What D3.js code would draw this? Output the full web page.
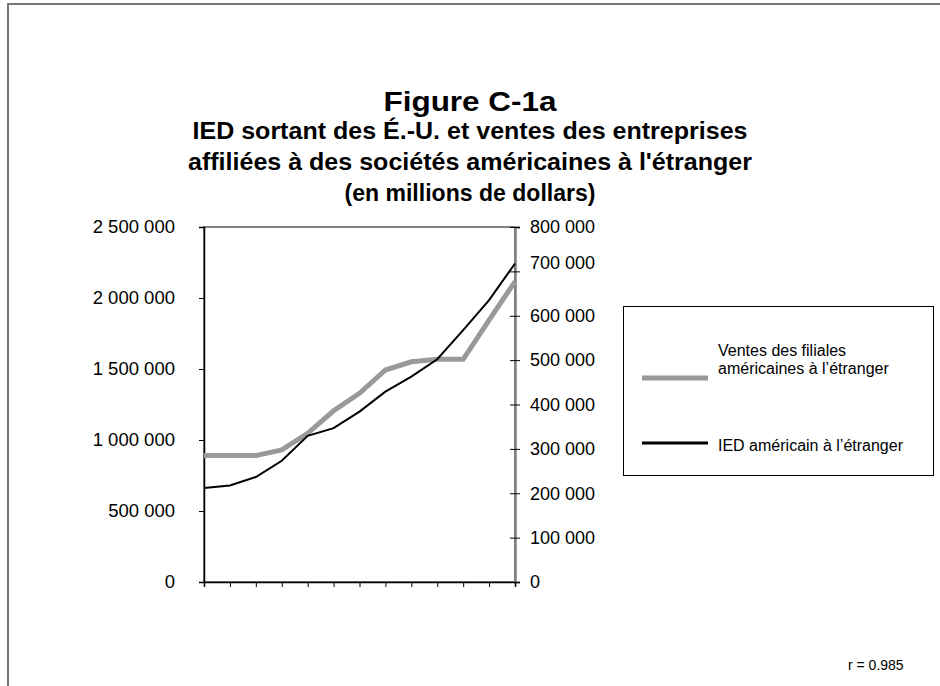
<!DOCTYPE html>
<html>
<head>
<meta charset="utf-8">
<script src="https://cdn.jsdelivr.net/npm/d3@7"></script>
<style>
  body { margin: 0; background: #fff; }
  text { font-family: "Liberation Sans", Arial, sans-serif; }
</style>
</head>
<body>
<div id="chart"></div>
<script>
// 13 periods, no labels on the category axis
var categories = ['1','2','3','4','5','6','7','8','9','10','11','12','13'];

// Ventes des filiales americaines a l'etranger (left axis)
var ventes = [890000, 890000, 890000, 930000, 1047000, 1206000, 1329000,
              1493000, 1551000, 1568000, 1568000, 1845000, 2115000];

// IED americain a l'etranger (right axis)
var ied = [211800, 217700, 236500, 273200, 329400, 346700, 384000,
           429000, 462700, 501900, 567700, 635200, 717700];

var leftTicks = [0, 500000, 1000000, 1500000, 2000000, 2500000];
var rightTicks = [0, 100000, 200000, 300000, 400000, 500000, 600000, 700000, 800000];

var titleLines = ['IED sortant des É.-U. et ventes des entreprises',
                  "affiliées à des sociétés américaines à l'étranger",
                  '(en millions de dollars)'];
var legendLabels = [['Ventes des filiales', 'américaines à l’étranger'],
                    ['IED américain à l’étranger']];

var
width = 940,
height = 686,
x0 = 204, x1 = 515,
y0 = 582, y1 = 227
;

var fmt = d3.formatLocale({decimal: ',', thousands: ' ', grouping: [3], currency: ['', '']}).format(',d');

var svg = d3.select('#chart').append('svg').attr('width', width).attr('height', height);

// outer frame
svg.append('rect').attr('x', 8).attr('y', 4).attr('width', 940).attr('height', 700)
    .attr('fill', 'none').attr('stroke', '#777').attr('stroke-width', 2);

// titles (the source text is a little stretched sideways)
var titleWidths = [555, 564, 251];
svg.append('text').attr('x', 470).attr('y', 111).attr('text-anchor', 'middle')
    .attr('textLength', 173).attr('lengthAdjust', 'spacingAndGlyphs')
    .style('font-size', '27px').style('font-weight', 'bold').text('Figure C-1a');
svg.selectAll('text.sub').data(titleLines).enter().append('text').attr('class', 'sub')
    .attr('x', 470).attr('y', function(d, i){ return 139 + i*31; })
    .attr('text-anchor', 'middle')
    .attr('textLength', function(d, i){ return titleWidths[i]; })
    .attr('lengthAdjust', 'spacingAndGlyphs')
    .style('font-size', '23px').style('font-weight', 'bold')
    .text(function(d){ return d; });

var x = d3.scalePoint().domain(categories).range([x0, x1]);
var yL = d3.scaleLinear().domain([0, 2500000]).range([y0, y1]);
var yR = d3.scaleLinear().domain([0, 800000]).range([y0, y1]);

// plot area border (gray)
svg.append('rect').attr('x', x0).attr('y', y1).attr('width', x1 - x0).attr('height', y0 - y1)
    .attr('fill', 'none').attr('stroke', '#808080').attr('stroke-width', 2);

// left axis
var gL = svg.append('g').attr('transform', 'translate(' + x0 + ',0)')
    .call(d3.axisLeft(yL).tickValues(leftTicks).tickFormat(fmt).tickSize(5).tickPadding(24));
gL.select('.domain').attr('stroke', '#000').attr('stroke-width', 1.5);
gL.selectAll('text').style('font-size', '18.5px').attr('fill', '#000');

// right axis, ticks cross the line
var gR = svg.append('g').attr('transform', 'translate(' + x1 + ',0)')
    .call(d3.axisRight(yR).tickValues(rightTicks).tickFormat(fmt).tickSize(5).tickPadding(10));
gR.select('.domain').attr('stroke', '#808080').attr('stroke-width', 2.5);
gR.selectAll('.tick line').attr('x1', -5).attr('stroke', '#000');
gR.selectAll('text').style('font-size', '18px').attr('fill', '#000')
    .attr('dy', function(d){ return d === 700000 ? '-0.15em' : '0.32em'; });

// bottom axis, no labels
var gB = svg.append('g').attr('transform', 'translate(0,' + y0 + ')')
    .call(d3.axisBottom(x).tickSize(5).tickFormat(''));
gB.select('.domain').attr('stroke', '#000').attr('stroke-width', 1.5);

// series
var lineL = d3.line().x(function(d, i){ return x(categories[i]); }).y(function(d){ return yL(d); });
var lineR = d3.line().x(function(d, i){ return x(categories[i]); }).y(function(d){ return yR(d); });

svg.append('path').datum(ventes).attr('d', lineL)
    .attr('fill', 'none').attr('stroke', '#999999').attr('stroke-width', 5);
svg.append('path').datum(ied).attr('d', lineR)
    .attr('fill', 'none').attr('stroke', '#000').attr('stroke-width', 2);

// legend
var lg = svg.append('g');
lg.append('rect').attr('x', 623.5).attr('y', 306.5).attr('width', 310).attr('height', 169)
    .attr('fill', '#fff').attr('stroke', '#000').attr('stroke-width', 1);
lg.append('line').attr('x1', 642).attr('x2', 708).attr('y1', 378).attr('y2', 378)
    .attr('stroke', '#999999').attr('stroke-width', 5);
lg.append('line').attr('x1', 642).attr('x2', 708).attr('y1', 443).attr('y2', 443)
    .attr('stroke', '#000').attr('stroke-width', 3);
lg.selectAll('text.l0').data(legendLabels[0]).enter().append('text')
    .attr('x', 718).attr('y', function(d, i){ return 356 + i*18; })
    .style('font-size', '16px').text(function(d){ return d; });
lg.append('text').attr('x', 718).attr('y', 451).style('font-size', '16px').text(legendLabels[1][0]);

// r value
svg.append('text').attr('x', 848).attr('y', 670).style('font-size', '14px').text('r = 0.985');
</script>
</body>
</html>
